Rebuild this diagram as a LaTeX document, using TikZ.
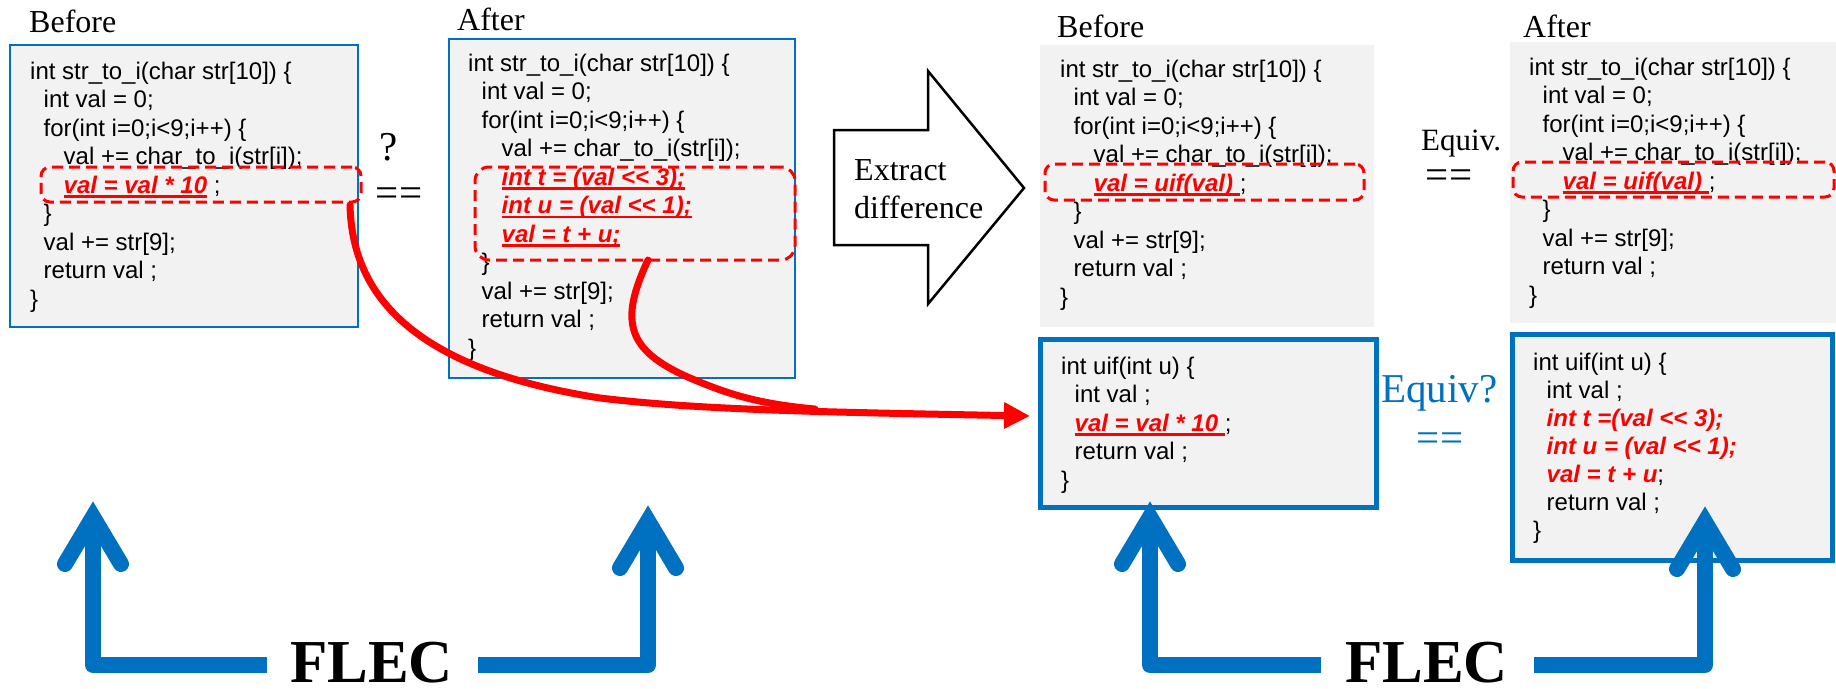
\documentclass[tikz,border=0pt]{standalone}
\usepackage{fontspec}
\setmainfont{Liberation Serif}
\newfontfamily\codefont{Liberation Sans}
\usetikzlibrary{arrows.meta,calc}
\definecolor{pblue}{HTML}{0070C0}
\definecolor{pgrey}{HTML}{F2F2F2}
\definecolor{pred}{HTML}{FF0000}
\newcommand\ulr[1]{\setbox0=\hbox{#1}\rlap{\rule[-4.5pt]{\wd0}{2.2pt}}\box0}
\newcommand\rd[1]{{\color{pred}\bfseries\itshape #1}}
\newcommand\rdu[1]{{\color{pred}\bfseries\itshape\ulr{#1}}}
\newcommand\indA{\hspace*{13.5pt}}
\newcommand\indB{\hspace*{33.5pt}}
\tikzset{
  thinbox/.style={draw=pblue, line width=2pt, fill=pgrey, inner sep=0pt, outer sep=0pt, anchor=north west},
  greybox/.style={fill=pgrey, inner sep=0pt, outer sep=0pt, anchor=north west},
  thickbox/.style={draw=pblue, line width=5pt, fill=pgrey, inner sep=0pt, outer sep=0pt, anchor=north west},
  rbox/.style={draw=pred, dash pattern=on 11pt off 6pt, line width=3pt, rounded corners=9pt, inner sep=0pt, outer sep=0pt, anchor=north west},
  code/.style={font=\codefont\fontsize{24}{28.5}\selectfont, inner sep=0pt, anchor=base west, align=left},
  codeb/.style={font=\codefont\fontsize{24}{28}\selectfont, inner sep=0pt, anchor=base west, align=left},
  lab/.style={font=\fontsize{32}{38}\selectfont, inner sep=0pt, anchor=base west},
  big/.style={font=\fontsize{41}{48}\selectfont, inner sep=0pt, anchor=base},
  flec/.style={font=\bfseries\fontsize{61}{70}\selectfont, inner sep=0pt, anchor=base west},
  redline/.style={draw=pred, line width=7pt, line cap=round},
  bluel/.style={draw=pblue, line width=16pt, line join=round},
  barb/.style={draw=pblue, line width=16pt, line cap=round, line join=miter},
  blockarrow/.style={draw=black, line width=2.5pt, fill=white, line join=miter}
}
\newcommand\flecarr[2]{%
  \draw[bluel] (#1) -| (#2);
  \draw[barb] ($(#2)+(-28,47)$) -- (#2) -- ($(#2)+(28,47)$);
}
\begin{document}
\begin{tikzpicture}[x=1pt,y=-1pt]
\useasboundingbox (0,0) rectangle (1836,688);
% code boxes
\node[thinbox, minimum width=348pt, minimum height=282pt] (bL) at (10,45) {};
\node[thinbox, minimum width=346pt, minimum height=339pt] (aL) at (449,39) {};
\node[greybox, minimum width=334pt, minimum height=282pt] (bR) at (1040,45) {};
\node[greybox, minimum width=335pt, minimum height=281pt] (aR) at (1510,42) {};
\node[thickbox, minimum width=336pt, minimum height=168pt] (uL) at (1040,339) {};
\node[thickbox, minimum width=320pt, minimum height=226pt] (uR) at (1512,334) {};
% labels
\node[lab] (lb1) at (29,32) {Before};
\node[lab] (la1) at (457,30) {After};
\node[lab] (lb2) at (1057,37) {Before};
\node[lab] (la2) at (1523,37) {After};
\node[big] (q) at (389,160) {?};
\node[big] (eq1) at (399,206) {==};
\node[lab, font=\fontsize{31}{36}\selectfont] (ev) at (1421,150) {Equiv.};
\node[big] (eq2) at (1449,188) {==};
\node[big, text=pblue, anchor=base west] (evq) at (1381,402) {Equiv?};
\node[big, text=pblue] (eq3) at (1440,451) {==};
% block arrow
\draw[blockarrow] (834,130) -- (928,130) -- (928,71) -- (1024,188) -- (928,304) -- (928,245) -- (834,245) -- cycle;
\node[lab] (ex1) at (854,180) {Extract};
\node[lab] (ex2) at (854,218) {difference};
% code
\node[code] (cbL) at (30,79) {\begin{tabular}[t]{@{}l@{}}
int str\_to\_i(char str[10]) \{\\
\indA int val = 0;\\
\indA for(int i=0;i<9;i++) \{\\
\indB val += char\_to\_i(str[i]);\\
\indB \rdu{val = val * 10} ;\\
\indA \}\\
\indA val += str[9];\\
\indA return val ;\\
\}
\end{tabular}};
\node[code] (caL) at (468,71) {\begin{tabular}[t]{@{}l@{}}
int str\_to\_i(char str[10]) \{\\
\indA int val = 0;\\
\indA for(int i=0;i<9;i++) \{\\
\indB val += char\_to\_i(str[i]);\\
\indB \rdu{int t = (val <\kern0pt< 3);}\\
\indB \rdu{int u = (val <\kern0pt< 1);}\\
\indB \rdu{val = t + u;}\\
\indA \}\\
\indA val += str[9];\\
\indA return val ;\\
\}
\end{tabular}};
\node[code] (cbR) at (1060,77) {\begin{tabular}[t]{@{}l@{}}
int str\_to\_i(char str[10]) \{\\
\indA int val = 0;\\
\indA for(int i=0;i<9;i++) \{\\
\indB val += char\_to\_i(str[i]);\\
\indB \rdu{val = uif(val) };\\
\indA \}\\
\indA val += str[9];\\
\indA return val ;\\
\}
\end{tabular}};
\node[code] (caR) at (1529,75) {\begin{tabular}[t]{@{}l@{}}
int str\_to\_i(char str[10]) \{\\
\indA int val = 0;\\
\indA for(int i=0;i<9;i++) \{\\
\indB val += char\_to\_i(str[i]);\\
\indB \rdu{val = uif(val) };\\
\indA \}\\
\indA val += str[9];\\
\indA return val ;\\
\}
\end{tabular}};
\node[code] (cuL) at (1061,374) {\begin{tabular}[t]{@{}l@{}}
int uif(int u) \{\\
\indA int val ;\\
\indA \rdu{val = val * 10 };\\
\indA return val ;\\
\}
\end{tabular}};
\node[codeb] (cuR) at (1533,370) {\begin{tabular}[t]{@{}l@{}}
int uif(int u) \{\\
\indA int val ;\\
\indA \rd{int t =(val <\kern0pt< 3);}\\
\indA \rd{int u = (val <\kern0pt< 1);}\\
\indA \rd{val = t + u};\\
\indA return val ;\\
\}
\end{tabular}};
% red dashed boxes
\node[rbox, minimum width=320pt, minimum height=35pt] (r1) at (41,167) {};
\node[rbox, rounded corners=14pt, minimum width=320pt, minimum height=93pt] (r2) at (475,167) {};
\node[rbox, minimum width=319pt, minimum height=36pt] (r3) at (1045,164) {};
\node[rbox, minimum width=321pt, minimum height=35pt] (r4) at (1513,162) {};
% red connectors
\coordinate (rtip) at (1030,416);
\coordinate (mrg) at (815,409);
\draw[redline, -{Triangle[length=26pt,width=25pt]}] ($(r1.south east)+(-11,3)$) .. controls (352,300) and (420,370) .. (600,398) .. controls (700,410) and (820,412) .. (rtip);
\draw[redline] ($(r2.south)+(13,0)$) .. controls (620,320) and (625,350) .. (690,378) .. controls (730,395) and (760,404) .. (mrg);
% FLEC
\node[flec] (f1) at (290,682) {FLEC};
\node[flec] (f2) at (1345,682) {FLEC};
\coordinate (tA) at (93,517);
\coordinate (tB) at (648,521);
\coordinate (tC) at (1150,517);
\coordinate (tD) at (1705,522);
\coordinate (sA) at ($(f1.base west)+(-23,-17)$);
\coordinate (sB) at ($(f1.base east)+(25,-17)$);
\coordinate (sC) at ($(f2.base west)+(-24,-17)$);
\coordinate (sD) at ($(f2.base east)+(26,-17)$);
\flecarr{sA}{tA}
\flecarr{sB}{tB}
\flecarr{sC}{tC}
\flecarr{sD}{tD}
\end{tikzpicture}
\end{document}
